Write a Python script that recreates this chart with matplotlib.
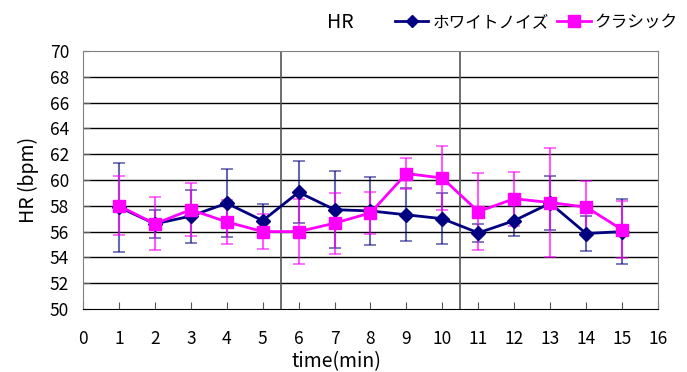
import matplotlib
matplotlib.use("Agg")
import matplotlib.pyplot as plt
from matplotlib.lines import Line2D

plt.rcParams['font.family'] = ['Noto Sans CJK JP', 'DejaVu Sans']

minutes = list(range(1, 16))
white_noise = [57.9, 56.6, 57.2, 58.2, 56.85, 59.05, 57.7, 57.6, 57.3, 57.0, 55.9, 56.85, 58.2, 55.85, 56.0]
white_noise_err = [3.45, 1.1, 2.05, 2.65, 1.3, 2.4, 3.0, 2.65, 2.05, 2.0, 0.7, 1.2, 2.1, 1.35, 2.55]
classic = [58.0, 56.6, 57.7, 56.75, 56.0, 56.0, 56.65, 57.45, 60.5, 60.15, 57.55, 58.55, 58.25, 57.9, 56.15]
classic_err = [2.3, 2.05, 2.05, 1.7, 1.35, 2.55, 2.35, 1.6, 1.2, 2.45, 3.0, 2.1, 4.25, 2.0, 2.2]
separators = [5.5, 10.5]

fig = plt.figure(figsize=(6.87, 3.72), dpi=100)
ax = fig.add_axes([0.1208, 0.1694, 0.837, 0.6935])

ax.set_xlim(0, 16)
ax.set_ylim(50, 70)
ax.set_xticks(range(0, 17))
ax.set_yticks(range(50, 71, 2))
for y in range(52, 70, 2):
    ax.axhline(y, color='black', lw=1.0, zorder=1)
for s in separators:
    ax.axvline(s, color='#555555', lw=1.2, zorder=1)

ax.errorbar(minutes, white_noise, yerr=white_noise_err, fmt='none', ecolor=(0, 0, 0.5, 0.6),
            elinewidth=1.5, capsize=4, capthick=1.2, zorder=2)
ax.errorbar(minutes, classic, yerr=classic_err, fmt='none', ecolor=(1, 0, 1, 0.65),
            elinewidth=1.5, capsize=4, capthick=1.2, zorder=2)
ax.plot(minutes, white_noise, color='#000080', lw=2, marker='D', ms=7, zorder=3)
ax.plot(minutes, classic, color='#FF00FF', lw=2, marker='s', ms=9, zorder=4)

for sp in ['left', 'top', 'right']:
    ax.spines[sp].set_color('#808080')
ax.spines['bottom'].set_color('black')
ax.tick_params(axis='x', direction='in', length=5, pad=15, labelsize=12.5, color='#555555')
ax.tick_params(axis='y', direction='in', length=5, pad=10, labelsize=12.5, color='#555555')
ax.tick_params(top=False, right=False)

ax.set_xlabel('time(min)', fontsize=14, va='center')
ax.xaxis.set_label_coords(0.44, -0.205)
ax.set_ylabel('HR (bpm)', fontsize=14, labelpad=8)

fig.text(0.495, 0.94, 'HR', fontsize=14, ha='center', va='center')
handles = [Line2D([], [], color='#000080', lw=2, marker='D', ms=6),
           Line2D([], [], color='#FF00FF', lw=2, marker='s', ms=8)]
fig.legend(handles, ['ホワイトノイズ', 'クラシック'], loc='center left', bbox_to_anchor=(0.575, 0.94),
           ncol=2, frameon=False, fontsize=12, handlelength=2.0, handletextpad=0.25,
           columnspacing=0.5, borderpad=0, borderaxespad=0)

fig.savefig('out.png', dpi=100)
